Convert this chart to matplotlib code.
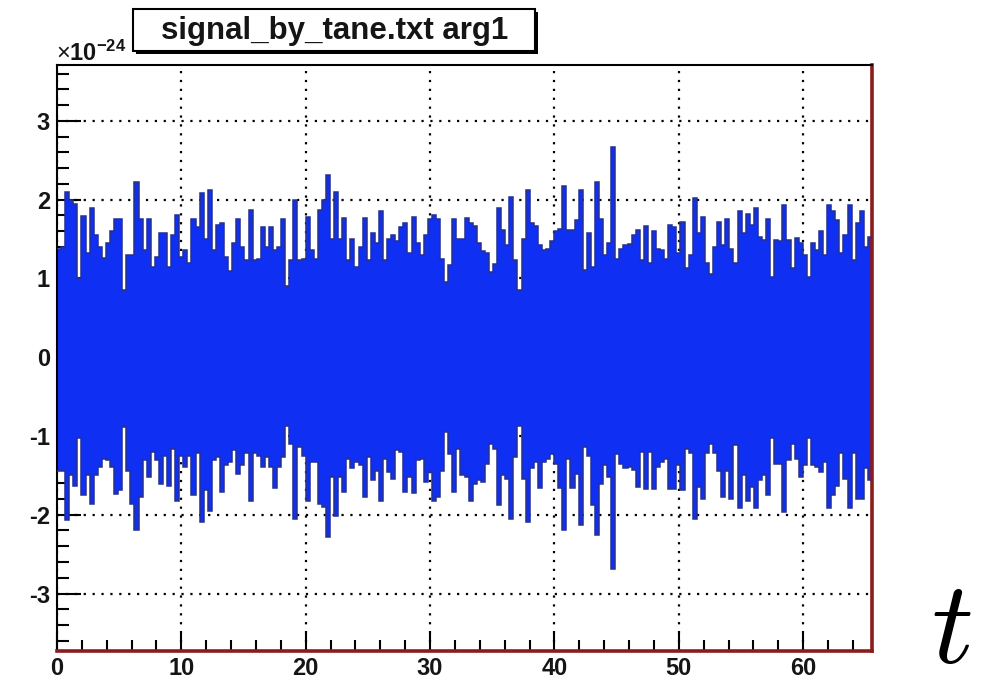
import numpy as np
import matplotlib
matplotlib.use("Agg")
import matplotlib.pyplot as plt
from matplotlib.patches import Rectangle
from matplotlib.ticker import MultipleLocator

# Signal envelope (units of 1e-24), maximum and minimum per time bin
duration = 65.536
upper = [
    1.38, 1.40, 2.10, 2.00, 1.95, 1.00, 1.79, 1.32, 1.90, 1.55,
    1.40, 1.26, 1.45, 1.60, 1.75, 1.75, 0.85, 1.30, 1.30, 2.23,
    1.75, 1.36, 1.75, 1.15, 1.27, 1.58, 1.58, 1.15, 1.55, 1.80,
    1.27, 1.36, 1.20, 1.76, 1.65, 2.08, 1.50, 2.12, 1.36, 1.68,
    1.70, 1.27, 1.09, 1.45, 1.75, 1.40, 1.23, 1.87, 1.23, 1.25,
    1.65, 1.40, 1.65, 1.36, 1.40, 1.75, 0.90, 1.23, 2.00, 1.23,
    1.25, 1.78, 1.36, 1.25, 1.87, 2.00, 2.31, 1.50, 2.10, 1.50,
    1.77, 1.23, 1.50, 1.15, 1.40, 1.77, 1.23, 1.58, 1.45, 1.85,
    1.23, 1.50, 1.55, 1.48, 1.65, 1.70, 1.32, 1.78, 1.45, 1.30,
    1.55, 1.76, 1.80, 1.75, 1.25, 0.96, 1.17, 1.76, 1.50, 1.50,
    1.77, 1.70, 1.66, 1.45, 1.35, 1.32, 1.08, 1.18, 1.89, 1.62,
    1.42, 2.03, 1.23, 0.85, 1.50, 2.12, 1.70, 1.66, 1.42, 1.36,
    1.38, 1.48, 1.60, 1.63, 2.18, 1.62, 1.62, 1.74, 2.12, 1.11,
    1.58, 1.15, 2.23, 1.75, 1.30, 1.45, 2.67, 1.25, 1.38, 1.42,
    1.44, 1.55, 1.61, 1.23, 1.66, 1.19, 1.60, 1.38, 1.36, 1.25,
    1.68, 1.65, 1.32, 1.72, 1.13, 1.30, 2.02, 1.58, 1.78, 1.19,
    1.06, 1.40, 1.72, 1.42, 1.76, 1.38, 1.20, 1.85, 1.58, 1.82,
    1.68, 1.89, 1.53, 1.49, 1.76, 1.02, 1.49, 1.47, 1.93, 1.49,
    1.13, 1.51, 1.45, 1.30, 1.02, 1.45, 1.36, 1.60, 1.30, 1.93,
    1.85, 1.74, 1.32, 1.55, 1.93, 1.23, 1.70, 1.85, 1.40, 1.53,
]
lower = [
    -1.44, -1.44, -2.07, -1.50, -1.63, -1.03, -1.75, -1.50, -1.86, -1.50,
    -1.39, -1.29, -1.31, -1.39, -1.74, -1.68, -0.88, -1.44, -1.86, -2.20,
    -1.77, -1.31, -1.52, -1.20, -1.31, -1.61, -1.25, -1.63, -1.16, -1.82,
    -1.25, -1.39, -1.25, -1.75, -1.22, -2.09, -1.69, -1.95, -1.31, -1.27,
    -1.71, -1.37, -1.33, -1.18, -1.48, -1.37, -1.22, -1.82, -1.22, -1.25,
    -1.39, -1.27, -1.39, -1.66, -1.39, -1.27, -0.87, -1.10, -2.05, -1.14,
    -1.25, -1.82, -1.33, -1.33, -1.86, -1.90, -2.28, -1.52, -2.01, -1.52,
    -1.71, -1.29, -1.41, -1.33, -1.37, -1.77, -1.27, -1.56, -1.44, -1.82,
    -1.29, -1.46, -1.54, -1.18, -1.20, -1.71, -1.52, -1.73, -1.31, -1.29,
    -1.58, -1.46, -1.82, -1.77, -1.44, -0.95, -1.23, -1.71, -1.16, -1.50,
    -1.52, -1.82, -1.61, -1.56, -1.58, -1.35, -1.10, -1.16, -1.88, -1.50,
    -1.54, -2.05, -1.27, -0.87, -1.54, -2.09, -1.41, -1.33, -1.66, -1.33,
    -1.29, -1.23, -1.35, -1.66, -2.20, -1.29, -1.66, -1.48, -2.13, -1.14,
    -1.25, -1.88, -2.26, -1.61, -1.37, -1.52, -2.69, -1.23, -1.35, -1.41,
    -1.39, -1.43, -1.65, -1.20, -1.67, -1.20, -1.67, -1.39, -1.33, -1.29,
    -1.67, -1.67, -1.37, -1.69, -1.16, -1.22, -2.05, -1.65, -1.80, -1.22,
    -1.10, -1.22, -1.44, -1.77, -1.44, -1.80, -1.12, -1.92, -1.50, -1.82,
    -1.65, -1.92, -1.56, -1.50, -1.75, -1.03, -1.35, -1.35, -1.97, -1.30,
    -1.10, -1.29, -1.52, -1.37, -1.03, -1.37, -1.39, -1.46, -1.33, -1.92,
    -1.75, -1.63, -1.22, -1.54, -1.92, -1.22, -1.80, -1.80, -1.41, -1.56,
]
title_text = "signal_by_tane.txt arg1"
x_ticks = [0, 10, 20, 30, 40, 50, 60]
y_ticks = [-3, -2, -1, 0, 1, 2, 3]

plt.rcParams["font.family"] = ["Liberation Sans", "DejaVu Sans"]
plt.rcParams["mathtext.fontset"] = "custom"
plt.rcParams["mathtext.rm"] = "Liberation Sans"
plt.rcParams["mathtext.bf"] = "Liberation Sans:bold"

W, H = 988, 691
fig = plt.figure(figsize=(W / 100, H / 100), dpi=100)
fig.patch.set_facecolor("white")

left, right, top, bottom = 57, 872, 65, 651
ax = fig.add_axes([left / W, 1 - bottom / H, (right - left) / W, (bottom - top) / H])

edges = np.linspace(0, duration, len(upper) + 1)
fill_col = "#0f2ff2"
edge_col = "#243090"
ax.stairs(upper, edges, baseline=lower, fill=True, color=fill_col, lw=0, zorder=2)
ax.stairs(upper, edges, baseline=None, color=edge_col, lw=1.1, zorder=3)
ax.stairs(lower, edges, baseline=None, color=edge_col, lw=1.1, zorder=3)

ax.set_xlim(0, duration)
ax.set_ylim(-3.73, 3.71)
ax.set_xticks(x_ticks)
ax.set_yticks(y_ticks)
ax.set_xticklabels([str(v) for v in x_ticks])
ax.set_yticklabels([str(v) for v in y_ticks])
ax.xaxis.set_minor_locator(MultipleLocator(2))
ax.yaxis.set_minor_locator(MultipleLocator(0.2))

ax.grid(True, which="major", color="black", lw=1.6, linestyle=(0, (1, 3)), zorder=1)
ax.set_axisbelow(True)

ax.tick_params(axis="both", which="both", direction="in", color="black",
               width=1.5, labelsize=17, labelcolor="#151515")
ax.tick_params(axis="y", which="major", length=17, pad=5, left=True, right=False)
ax.tick_params(axis="y", which="minor", length=8.5, left=True, right=False)
ax.tick_params(axis="x", which="major", length=13, pad=4, bottom=True, top=False)
ax.tick_params(axis="x", which="minor", length=8, bottom=True, top=False)
for lab in ax.get_xticklabels() + ax.get_yticklabels():
    lab.set_fontweight("bold")

for side in ("left", "top"):
    ax.spines[side].set_color("black")
    ax.spines[side].set_linewidth(1.5)
for side in ("right", "bottom"):
    ax.spines[side].set_color("#8c1c1c")
    ax.spines[side].set_linewidth(2.6)

# Exponent of the vertical axis
fig.text(56 / W, 1 - 61 / H, r"$\times\mathbf{10^{-24}}$", fontsize=17,
         ha="left", va="baseline", color="#151515")

# Title box with drop shadow
bx0, by0, bx1, by1 = 133, 9, 535, 51
shadow = 3
fig.patches.append(Rectangle(((bx0 + shadow) / W, 1 - (by1 + shadow) / H),
                             (bx1 - bx0) / W, (by1 - by0) / H,
                             transform=fig.transFigure, facecolor="black",
                             edgecolor="black", lw=0, zorder=5))
fig.patches.append(Rectangle((bx0 / W, 1 - by1 / H), (bx1 - bx0) / W, (by1 - by0) / H,
                             transform=fig.transFigure, facecolor="white",
                             edgecolor="black", lw=1.5, zorder=6))
fig.text((bx0 + bx1) / 2 / W + 0.001, 1 - 31 / H, title_text, fontsize=22.5, fontweight="bold",
         ha="center", va="center", color="#151515", zorder=7)

# Time axis symbol
fig.text(931 / W, 1 - 687 / H, r"$t$", fontsize=84, ha="left", va="bottom",
         math_fontfamily="cm")

fig.savefig("out.png", dpi=100)
